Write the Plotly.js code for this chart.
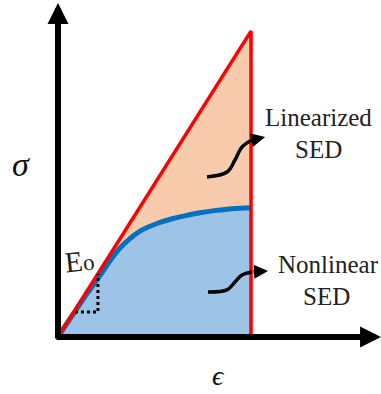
<!DOCTYPE html>
<html>
<head>
<meta charset="utf-8">
<script src="https://cdn.plot.ly/plotly-3.0.1.min.js"></script>
<style>
  html, body { margin: 0; padding: 0; background: #ffffff; }
  #chart { width: 381px; height: 394px; }
</style>
</head>
<body>
<div id="chart"></div>
<script>
// Stress–strain sketch: linearized vs nonlinear strain energy density (SED)

// Nonlinear response (strain, stress)
const strainNonlinear = [0, 0.052, 0.104, 0.155, 0.218, 0.269, 0.321, 0.373, 0.425,
  0.513, 0.596, 0.674, 0.736, 0.819, 0.902, 1.0];
const stressNonlinear = [0, 0.079, 0.156, 0.231, 0.319, 0.394, 0.461, 0.510, 0.549,
  0.588, 0.614, 0.632, 0.644, 0.656, 0.665, 0.670];

// Linearized response with initial modulus E0, closed at the final strain
const E0 = 1.585;
const strainLinear = [0, 1.0];
const stressLinear = strainLinear.map(e => E0 * e);

// Slope indicator for E0
const slopeStrain = [0.088, 0.207, 0.207];
const slopeStress = [0.1295, 0.1295, 0.326];

// Axis extents
const strainAxisEnd = 1.674;
const stressAxisEnd = 1.731;

// Squiggly pointers toward the labels
const pointerLinStrain = [0.772, 0.876, 0.917, 0.953, 1.005];
const pointerLinStress = [0.829, 0.855, 0.917, 0.984, 1.021];
const pointerLinTip = [1.073, 1.036];
const pointerNonStrain = [0.777, 0.876, 0.917, 0.953, 1.005];
const pointerNonStress = [0.233, 0.244, 0.285, 0.321, 0.337];
const pointerNonTip = [1.088, 0.342];

const RED = '#ff0000';
const BLUE = '#0070c0';
const serif = '"Liberation Serif", serif';

const lastStrain = strainLinear[strainLinear.length - 1];
const peakStress = stressLinear[stressLinear.length - 1];

const traces = [
  // Nonlinear SED area
  { x: strainNonlinear, y: stressNonlinear, mode: 'lines', fill: 'tozeroy',
    fillcolor: '#9dc3e6', line: { width: 0, shape: 'spline' }, hoverinfo: 'skip' },
  // Extra area of the linearized SED
  { x: strainLinear, y: stressLinear, mode: 'lines', fill: 'tonexty',
    fillcolor: '#f8cbad', line: { width: 0 }, hoverinfo: 'skip' },
  // Nonlinear curve
  { x: strainNonlinear, y: stressNonlinear, mode: 'lines',
    line: { color: BLUE, width: 5, shape: 'spline' }, hoverinfo: 'skip' },
  // Linear line and final-strain edge
  { x: strainLinear.concat([lastStrain, lastStrain]),
    y: stressLinear.concat([peakStress, 0]), mode: 'lines',
    line: { color: RED, width: 3.5 }, hoverinfo: 'skip' },
  // Slope triangle
  { x: slopeStrain, y: slopeStress, mode: 'lines',
    line: { color: '#000', width: 3, dash: 'dot' }, hoverinfo: 'skip' },
  // Pointers
  { x: pointerLinStrain, y: pointerLinStress, mode: 'lines',
    line: { color: '#000', width: 3.5, shape: 'spline' }, hoverinfo: 'skip' },
  { x: pointerNonStrain, y: pointerNonStress, mode: 'lines',
    line: { color: '#000', width: 3.5, shape: 'spline' }, hoverinfo: 'skip' }
];

function arrow(tip, tail, width, size) {
  return { x: tip[0], y: tip[1], ax: tail[0], ay: tail[1], xref: 'x', yref: 'y',
    axref: 'x', ayref: 'y', text: '', showarrow: true, arrowhead: 2,
    arrowwidth: width, arrowsize: size, arrowcolor: '#000', standoff: 0 };
}
function label(text, x, y, size, extra) {
  return Object.assign({ x: x, y: y, xref: 'x', yref: 'y', text: text, showarrow: false,
    font: { family: serif, size: size, color: '#222' }, xanchor: 'center', yanchor: 'middle' }, extra || {});
}

const annotations = [
  // Axes
  arrow([0, stressAxisEnd], [0, -0.016], 6, 0.7),
  arrow([strainAxisEnd, 0], [-0.016, 0], 6, 0.7),
  // Pointer heads
  arrow(pointerLinTip, [pointerLinStrain[4], pointerLinStress[4]], 3.5, 0.8),
  arrow(pointerNonTip, [pointerNonStrain[4], pointerNonStress[4]], 3.5, 0.8),
  // Labels
  label('Linearized', 1.350, 1.135, 25),
  label('SED', 1.350, 0.974, 25),
  label('Nonlinear', 1.399, 0.378, 25),
  label('SED', 1.391, 0.212, 25),
  label('<i>σ</i>', -0.190, 0.896, 34, { font: { family: serif, size: 34, color: '#111' } }),
  label('<i>ϵ</i>', 0.834, -0.200, 28, { font: { family: serif, size: 28, color: '#111' } }),
  label('E<span style="font-size:23px">o</span>', 0.112, 0.392, 29, { textangle: -6 })
];

const layout = {
  width: 381, height: 394,
  margin: { l: 0, r: 0, t: 0, b: 0 },
  paper_bgcolor: '#ffffff', plot_bgcolor: '#ffffff',
  showlegend: false,
  xaxis: { range: [-0.3005, 1.6736], visible: false, fixedrange: true },
  yaxis: { range: [-0.2953, 1.7461], visible: false, fixedrange: true },
  annotations: annotations
};

Plotly.newPlot('chart', traces, layout, { staticPlot: true, displayModeBar: false });
</script>
</body>
</html>
